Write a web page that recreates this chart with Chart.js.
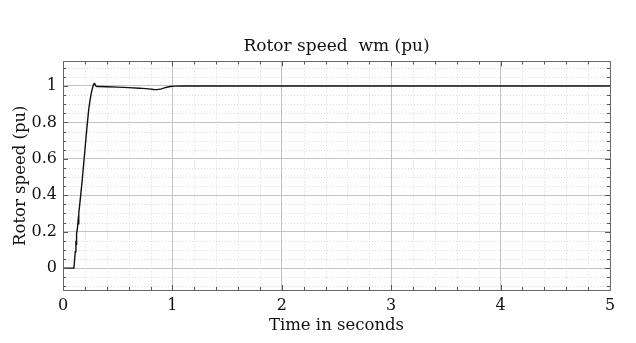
<!DOCTYPE html>
<html>
<head>
<meta charset="utf-8">
<script src="https://cdn.jsdelivr.net/npm/chart.js@4"></script>
<style>
  html, body { margin: 0; padding: 0; background: #fff; }
  #wrap { width: 636px; height: 343px; }
</style>
</head>
<body>
<div id="wrap"><canvas id="c" width="636" height="343"></canvas></div>
<script>
// Rotor speed response (pu) over time (s)
const timeSec = [0, 0.1, 0.112, 0.118, 0.121, 0.124, 0.132, 0.138, 0.142, 0.146, 0.16, 0.175, 0.19, 0.205, 0.22, 0.235, 0.248, 0.26, 0.27, 0.278, 0.285, 0.292, 0.3, 0.31, 0.33, 0.4, 0.5, 0.6, 0.7, 0.78, 0.83, 0.86, 0.9, 0.94, 0.98, 1.02, 1.1, 1.3, 2, 3, 4, 5];
const speedPu = [0, 0, 0.09, 0.15, 0.13, 0.19, 0.22, 0.26, 0.24, 0.3, 0.39, 0.48, 0.58, 0.68, 0.78, 0.87, 0.925, 0.965, 0.99, 1.006, 1.013, 1.01, 1.0, 0.997, 0.997, 0.996, 0.994, 0.991, 0.988, 0.984, 0.981, 0.98, 0.984, 0.992, 0.997, 0.999, 1.0, 1.0, 1.0, 1.0, 1.0, 1.0];
const xTickValues = [0, 1, 2, 3, 4, 5];
const yTickValues = [0, 0.2, 0.4, 0.6, 0.8, 1];
const xMinorStep = 0.2;
const yMinorStep = 0.05;

const serif = "'DejaVu Serif', 'Liberation Serif', serif";

// Dotted minor grid, drawn beneath the major grid
const minorGrid = {
  id: 'minorGrid',
  beforeDatasetsDraw(chart) {
    const { ctx, chartArea: a, scales: { x, y } } = chart;
    ctx.save();
    ctx.strokeStyle = '#dadada';
    ctx.lineWidth = 1;
    ctx.setLineDash([1, 2]);
    for (let v = x.min; v <= x.max + 1e-9; v += xMinorStep) {
      const r = Math.round(v * 1000) / 1000;
      if (Math.abs(r - Math.round(r)) < 1e-6) continue;
      const px = Math.round(x.getPixelForValue(r)) + 0.5;
      ctx.beginPath(); ctx.moveTo(px, a.top); ctx.lineTo(px, a.bottom); ctx.stroke();
    }
    const start = Math.ceil(y.min / yMinorStep) * yMinorStep;
    for (let v = start; v <= y.max + 1e-9; v += yMinorStep) {
      const r = Math.round(v * 1000) / 1000;
      if (Math.abs(r / 0.2 - Math.round(r / 0.2)) < 1e-6) continue;
      const py = Math.round(y.getPixelForValue(r)) + 0.5;
      ctx.beginPath(); ctx.moveTo(a.left, py); ctx.lineTo(a.right, py); ctx.stroke();
    }
    ctx.restore();
  }
};

// Inward tick marks on all four sides plus the frame
const frameTicks = {
  id: 'frameTicks',
  afterDraw(chart) {
    const { ctx, chartArea: a, scales: { x, y } } = chart;
    ctx.save();
    ctx.strokeStyle = '#555';
    ctx.lineWidth = 1;
    for (let v = x.min; v <= x.max + 1e-9; v += xMinorStep) {
      const r = Math.round(v * 1000) / 1000;
      const major = Math.abs(r - Math.round(r)) < 1e-6;
      const len = major ? 5 : 3;
      const px = Math.round(x.getPixelForValue(r)) + 0.5;
      ctx.beginPath();
      ctx.moveTo(px, a.bottom); ctx.lineTo(px, a.bottom - len);
      ctx.moveTo(px, a.top); ctx.lineTo(px, a.top + len);
      ctx.stroke();
    }
    const start = Math.ceil(y.min / yMinorStep) * yMinorStep;
    for (let v = start; v <= y.max + 1e-9; v += yMinorStep) {
      const r = Math.round(v * 1000) / 1000;
      const major = Math.abs(r / 0.2 - Math.round(r / 0.2)) < 1e-6;
      const len = major ? 5 : 3;
      const py = Math.round(y.getPixelForValue(r)) + 0.5;
      ctx.beginPath();
      ctx.moveTo(a.left, py); ctx.lineTo(a.left + len, py);
      ctx.moveTo(a.right, py); ctx.lineTo(a.right - len, py);
      ctx.stroke();
    }
    ctx.strokeStyle = '#666';
    ctx.strokeRect(Math.round(a.left) + 0.5, Math.round(a.top) + 0.5,
      Math.round(a.right - a.left), Math.round(a.bottom - a.top));
    ctx.restore();
  }
};

new Chart(document.getElementById('c'), {
  type: 'line',
  data: {
    datasets: [{
      data: timeSec.map((t, i) => ({ x: t, y: speedPu[i] })),
      borderColor: '#111',
      borderWidth: 1.4,
      pointRadius: 0,
      tension: 0,
      fill: false
    }]
  },
  options: {
    responsive: false,
    animation: false,
    layout: { padding: { left: 0, right: 26, top: 0, bottom: 0 } },
    plugins: {
      legend: { display: false },
      tooltip: { enabled: false },
      title: {
        display: true,
        text: 'Rotor speed  wm (pu)',
        fullSize: false,
        color: '#111',
        font: { family: serif, size: 17, weight: 'normal', lineHeight: 1.2 },
        padding: { top: 36, bottom: 5 }
      }
    },
    scales: {
      x: {
        type: 'linear',
        min: 0,
        max: 5,
        afterBuildTicks(s) { s.ticks = xTickValues.map(v => ({ value: v })); },
        afterFit(s) { s.height = 53; },
        ticks: { color: '#111', font: { family: serif, size: 16 }, padding: 6, maxRotation: 0 },
        grid: { color: '#c4c4c4', drawTicks: false },
        border: { display: false },
        title: {
          display: true,
          text: 'Time in seconds',
          color: '#111',
          font: { family: serif, size: 16.5 },
          padding: { top: 0, bottom: 7 }
        }
      },
      y: {
        type: 'linear',
        min: -0.12,
        max: 1.135,
        afterBuildTicks(s) { s.ticks = yTickValues.map(v => ({ value: v })); },
        afterFit(s) { s.width = 63; },
        ticks: {
          color: '#111',
          font: { family: serif, size: 16 },
          padding: 6,
          callback: v => String(v)
        },
        grid: { color: '#c4c4c4', drawTicks: false },
        border: { display: false },
        title: {
          display: true,
          text: 'Rotor speed (pu)',
          color: '#111',
          font: { family: serif, size: 16.5 },
          padding: { top: 11, bottom: 0 }
        }
      }
    }
  },
  plugins: [minorGrid, frameTicks]
});
</script>
</body>
</html>
